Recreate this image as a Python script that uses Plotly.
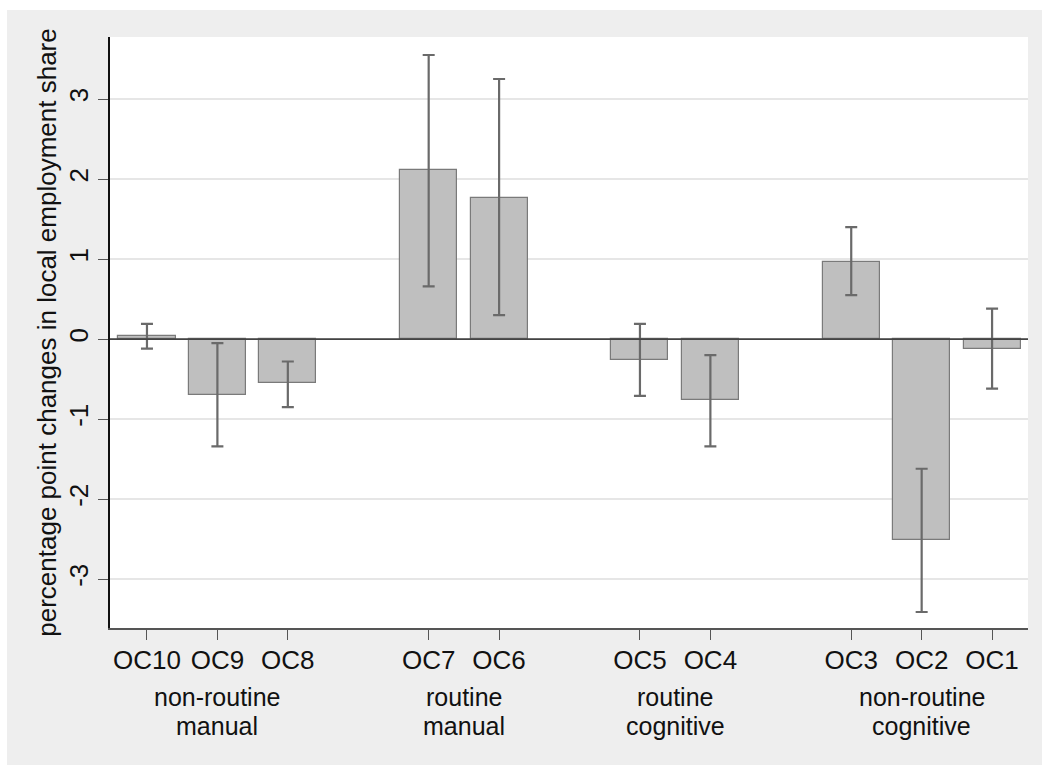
import plotly.graph_objects as go

occupations = ["OC10", "OC9", "OC8", "OC7", "OC6", "OC5", "OC4", "OC3", "OC2", "OC1"]
positions = [1, 2, 3, 5, 6, 8, 9, 11, 12, 13]
values = [0.04, -0.70, -0.55, 2.11, 1.76, -0.26, -0.76, 0.96, -2.51, -0.12]
ci_upper = [0.19, -0.05, -0.28, 3.55, 3.25, 0.19, -0.20, 1.40, -1.62, 0.38]
ci_lower = [-0.12, -1.34, -0.85, 0.66, 0.30, -0.71, -1.34, 0.55, -3.41, -0.62]
group_labels = [("non-routine", "manual"), ("routine", "manual"),
                ("routine", "cognitive"), ("non-routine", "cognitive")]
group_centers = [2, 5.5, 8.5, 12]
y_ticks = [-3, -2, -1, 0, 1, 2, 3]
y_tick_text = ["-3", "-2", "-1", "0", "1", "2", "3"]

err_plus = [u - v for u, v in zip(ci_upper, values)]
err_minus = [v - l for v, l in zip(values, ci_lower)]

FONT = "Liberation Sans, Arial, sans-serif"
FS = 26
W, H = 1042, 765
L, R, T, B = 110, 14, 37, 137
pw, ph = W - L - R, H - T - B

fig = go.Figure()
fig.add_trace(go.Bar(
    x=positions, y=values, width=0.81,
    marker=dict(color="#BFBFBF", line=dict(color="#7A7A7A", width=1.2)),
    error_y=dict(type="data", symmetric=False, array=err_plus, arrayminus=err_minus,
                 color="#6A6A6A", thickness=2.2, width=6),
    showlegend=False, hoverinfo="skip",
))

annotations = []
for (l1, l2), cx in zip(group_labels, group_centers):
    annotations.append(dict(x=cx, y=-(696.5 - (H - B)) / ph, xref="x", yref="paper",
                            text=l1, showarrow=False, xanchor="center", yanchor="middle",
                            font=dict(family=FONT, size=25, color="#111111")))
    annotations.append(dict(x=cx, y=-(726 - (H - B)) / ph, xref="x", yref="paper",
                            text=l2, showarrow=False, xanchor="center", yanchor="middle",
                            font=dict(family=FONT, size=25, color="#111111")))

shapes = [
    dict(type="line", xref="paper", yref="y", x0=0, x1=1, y0=0, y1=0,
         line=dict(color="#444444", width=1.8), layer="above"),
    dict(type="rect", xref="paper", yref="paper", x0=-L / pw - 0.01, x1=(7 - L) / pw,
         y0=-B / ph - 0.01, y1=1 + T / ph + 0.01, fillcolor="white", line=dict(width=0)),
    dict(type="rect", xref="paper", yref="paper", x0=-L / pw - 0.01, x1=1 + R / pw + 0.01,
         y0=1 + (T - 10) / ph, y1=1 + T / ph + 0.01, fillcolor="white", line=dict(width=0)),
]

fig.update_layout(
    width=W, height=H,
    margin=dict(l=L, r=R, t=T, b=B),
    paper_bgcolor="#EEEEEE", plot_bgcolor="white",
    font=dict(family=FONT, size=FS, color="#111111"),
    annotations=annotations, shapes=shapes,
    bargap=0,
)
fig.update_xaxes(
    range=[0.475, 13.51], tickmode="array", tickvals=positions, ticktext=occupations,
    ticks="outside", ticklen=10, tickwidth=1.3, tickcolor="#555555",
    showline=True, linecolor="#555555", linewidth=1.5, showgrid=False, zeroline=False,
    tickfont=dict(family=FONT, size=FS, color="#111111"), ticklabelstandoff=-2,
)
fig.update_yaxes(
    range=[-3.61, 3.775], tickmode="array", tickvals=y_ticks, ticktext=y_tick_text,
    ticks="outside", ticklen=10, tickwidth=1.3, tickcolor="#555555",
    showline=True, linecolor="#111111", linewidth=1.5,
    showgrid=True, gridcolor="#E6E6E6", gridwidth=2, zeroline=False,
    tickangle=-90, tickfont=dict(family=FONT, size=FS, color="#111111"),
    ticklabelstandoff=0,
    title=dict(text="percentage point changes in local employment share",
               font=dict(family=FONT, size=FS, color="#111111"), standoff=0),
)

fig.write_html("out.html", config={"displayModeBar": False},
               post_script="document.body.style.margin='0';document.body.style.overflow='hidden';")
